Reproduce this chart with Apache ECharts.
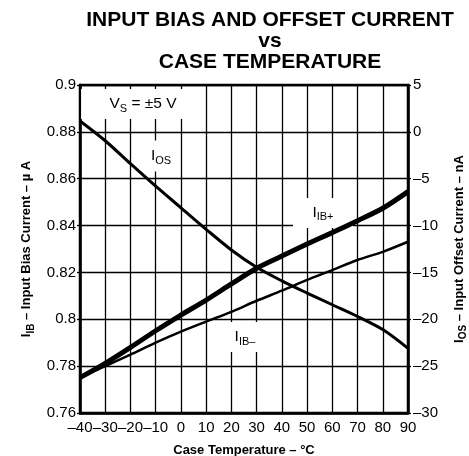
<!DOCTYPE html>
<html><head><meta charset="utf-8">
<script src="https://cdn.jsdelivr.net/npm/echarts@6/dist/echarts.min.js"></script>
<style>html,body{margin:0;padding:0;background:#fff}#c{width:469px;height:456px}</style>
</head><body><div id="c"></div>
<script>
const FONT = '"Liberation Sans", Arial, Helvetica, sans-serif';
const temps = [-40, -30, -20, -10, 0, 10, 20, 30, 40, 50, 60, 70, 80, 90];
const iibPlus = [0.7751, 0.7812, 0.7880, 0.7951, 0.8018, 0.8082, 0.8151, 0.8218, 0.8270, 0.8321, 0.8370, 0.8421, 0.8474, 0.8545];
const iibMinus = [0.7751, 0.7800, 0.7849, 0.7900, 0.7947, 0.7990, 0.8032, 0.8079, 0.8122, 0.8168, 0.8210, 0.8253, 0.8288, 0.8331];
const ios = [1.16, -0.95, -3.4, -5.8, -8.1, -10.4, -12.6, -14.45, -15.9, -17.2, -18.45, -19.7, -21.1, -23.1];
const titleLines = ['INPUT BIAS AND OFFSET CURRENT', 'vs', 'CASE TEMPERATURE'];
const xName = 'Case Temperature – °C';
const leftName = ['I', 'IB', ' – Input Bias Current – µ A'];
const rightName = ['I', 'OS', ' – Input Offset Current – nA'];
// annotation texts: [main, subscript, rest] and anchor in data coords (x, left-axis y)
const annMain = ['V', 'I', 'I', 'I'];
const annSub = ['S', 'OS', 'IB+', 'IB–'];
const annRest = [' = ±5 V', '', '', ''];
const annX = [-15, -7.9, 56.3, 25.4];
const annY = [0.8919, 0.8697, 0.8454, 0.7924];
const annBoxW = [124, 34, 60, 44];
const annBoxH = [30, 31, 30, 30];

const pair = a => temps.map((t, i) => [t, a[i]]);
const dash = v => String(v).replace('-', '–');

const chart = echarts.init(document.getElementById('c'));
const richName = {
  a: { fontSize: 13, fontWeight: 'bold', fontFamily: FONT, color: '#000', lineHeight: 18 },
  b: { fontSize: 10, fontWeight: 'bold', fontFamily: FONT, color: '#000', lineHeight: 9, verticalAlign: 'bottom' }
};
const option = {
  animation: false,
  backgroundColor: '#fff',
  textStyle: { fontFamily: FONT },
  grid: { left: 80, right: 61, top: 85, bottom: 43, show: true, borderColor: '#000', borderWidth: 2.5,
          containLabel: false, outerBoundsMode: 'none' },
  xAxis: {
    type: 'value', min: -40, max: 90, interval: 10,
    axisLine: { show: true, onZero: false, lineStyle: { color: '#000', width: 2.5 } },
    axisTick: { show: false },
    axisLabel: { color: '#000', fontSize: 15, margin: 7, fontFamily: FONT, showMinLabel: true, showMaxLabel: true,
                 hideOverlap: false, formatter: v => dash(v) },
    splitLine: { show: true, lineStyle: { color: '#000', width: 1.3 } },
    name: xName, nameLocation: 'middle', nameGap: 31,
    nameTextStyle: { color: '#000', fontSize: 13, fontWeight: 'bold', fontFamily: FONT }
  },
  yAxis: [{
    type: 'value', min: 0.76, max: 0.9, interval: 0.02,
    axisLine: { show: true, onZero: false, lineStyle: { color: '#000', width: 2.5 } },
    axisTick: { show: true, length: 3, lineStyle: { color: '#000', width: 1.3 } },
    axisLabel: { color: '#000', fontSize: 15, margin: 4, fontFamily: FONT, showMinLabel: true, showMaxLabel: true,
                 formatter: v => String(+v.toFixed(2)) },
    splitLine: { show: true, lineStyle: { color: '#000', width: 1.3 } },
    name: '{a|' + leftName[0] + '}{b|' + leftName[1] + '}{a|' + leftName[2] + '}',
    nameLocation: 'middle', nameGap: 44, nameRotate: 90,
    nameTextStyle: { color: '#000', fontFamily: FONT, rich: richName }
  }, {
    type: 'value', min: -30, max: 5, interval: 5, position: 'right',
    axisLine: { show: true, onZero: false, lineStyle: { color: '#000', width: 2.5 } },
    axisTick: { show: true, length: 3, lineStyle: { color: '#000', width: 1.3 } },
    axisLabel: { color: '#000', fontSize: 15, margin: 5, fontFamily: FONT, showMinLabel: true, showMaxLabel: true,
                 formatter: v => dash(v) },
    splitLine: { show: false },
    name: '{a|' + rightName[0] + '}{b|' + rightName[1] + '}{a|' + rightName[2] + '}',
    nameLocation: 'middle', nameGap: 42, nameRotate: 90,
    nameTextStyle: { color: '#000', fontFamily: FONT, rich: richName }
  }],
  series: [
    { name: 'IIB+', type: 'line', yAxisIndex: 0, data: pair(iibPlus), smooth: 0.3, symbol: 'none', z: 5,
      lineStyle: { color: '#000', width: 5 } },
    { name: 'IIB-', type: 'line', yAxisIndex: 0, data: pair(iibMinus), smooth: 0.3, symbol: 'none', z: 5,
      lineStyle: { color: '#000', width: 2.5 } },
    { name: 'IOS', type: 'line', yAxisIndex: 1, data: pair(ios), smooth: 0.3, symbol: 'none', z: 5,
      lineStyle: { color: '#000', width: 3 } }
  ]
};
chart.setOption(option);

const g = [{
  type: 'text', x: 270, y: 10, z: 10,
  style: { text: titleLines.join('\n'), font: 'bold 21px ' + FONT, fill: '#000', align: 'center', verticalAlign: 'top', lineHeight: 21 }
}];
for (let i = 0; i < annMain.length; i++) {
  const p = chart.convertToPixel({ xAxisIndex: 0, yAxisIndex: 0 }, [annX[i], annY[i]]);
  g.push({ type: 'rect', z: 1, shape: { x: p[0] - annBoxW[i] / 2, y: p[1] - annBoxH[i] / 2, width: annBoxW[i], height: annBoxH[i] },
    style: { fill: '#fff' } });
  g.push({ type: 'text', z: 2, x: p[0], y: p[1],
    style: {
      text: '{a|' + annMain[i] + '}{b|' + annSub[i] + '}' + (annRest[i] ? '{a|' + annRest[i] + '}' : ''),
      align: 'center', verticalAlign: 'middle', fill: '#000',
      rich: {
        a: { fontSize: 15.5, fontFamily: FONT, fill: '#000', lineHeight: 20 },
        b: { fontSize: 11, fontFamily: FONT, fill: '#000', lineHeight: 10, verticalAlign: 'bottom' }
      }
    } });
}
chart.setOption({ graphic: g });
</script></body></html>
